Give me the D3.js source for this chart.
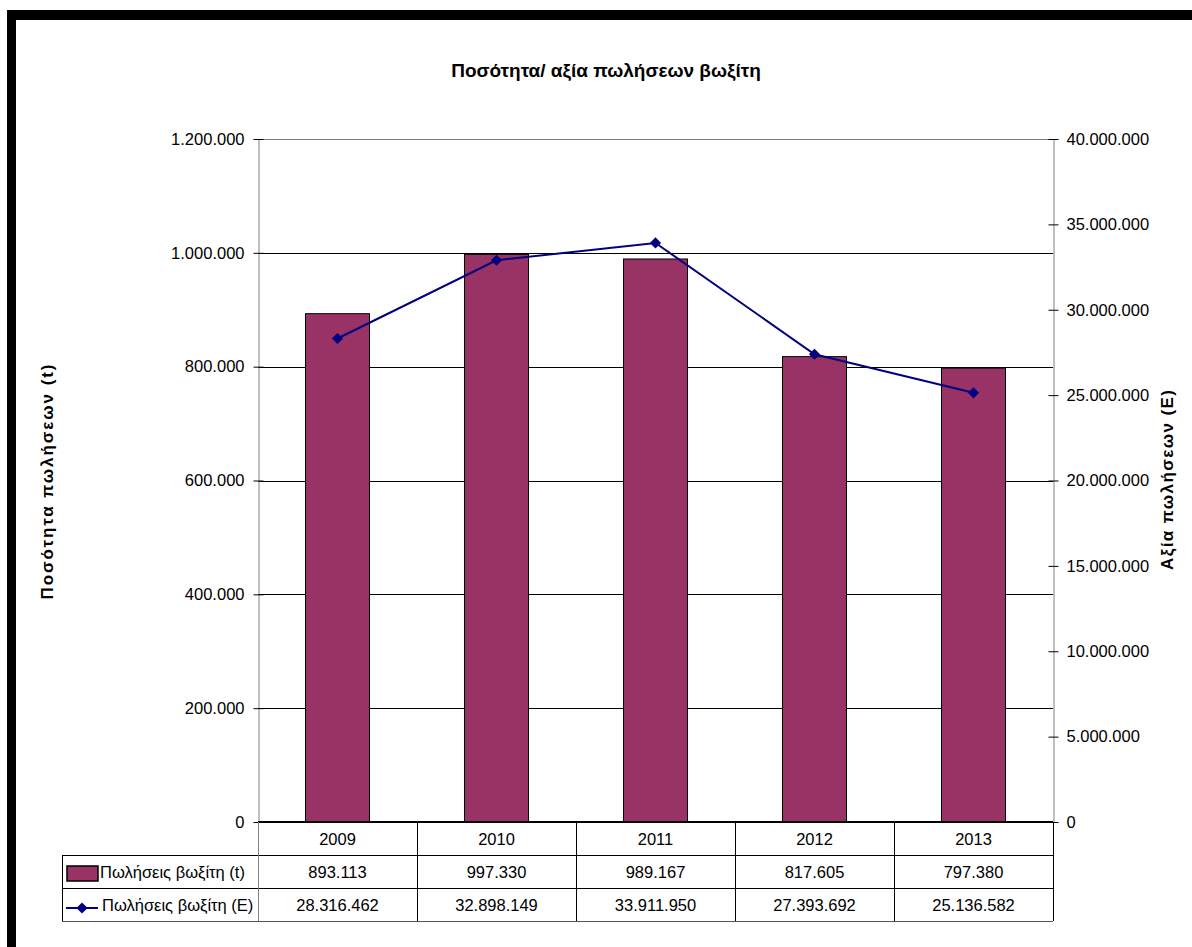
<!DOCTYPE html>
<html><head><meta charset="utf-8">
<script src="https://cdn.jsdelivr.net/npm/d3@7"></script>
<style>body{margin:0;background:#fff;} svg{display:block;font-family:"Liberation Sans",Arial,sans-serif;}</style>
</head><body>
<svg id="c" width="1192" height="947"></svg>
<script>
const categories = ["2009","2010","2011","2012","2013"];
const tons = [893113, 997330, 989167, 817605, 797380];
const values = [28316462, 32898149, 33911950, 27393692, 25136582];
const leftTicks = [0,200000,400000,600000,800000,1000000,1200000];
const rightTicks = [0,5000000,10000000,15000000,20000000,25000000,30000000,35000000,40000000];
const seriesNames = ["Πωλήσεις βωξίτη (t)", "Πωλήσεις βωξίτη (E)"];
const title = "Ποσότητα/ αξία πωλήσεων βωξίτη";
const leftTitle = "Ποσότητα πωλήσεων (t)";
const rightTitle = "Αξία πωλήσεων (Ε)";

const loc = d3.formatLocale({decimal:",", thousands:".", grouping:[3], currency:["",""]});
const fmt = loc.format(",d");

const svg = d3.select("#c");
const L=258, R=1053, T=139, B=822;
const x = d3.scaleBand().domain(categories).range([L,R]).paddingInner(0).paddingOuter(0);
const yL = d3.scaleLinear().domain([0,1200000]).range([B,T]);
const yR = d3.scaleLinear().domain([0,40000000]).range([B,T]);

// frame
svg.append("rect").attr("x",7).attr("y",10).attr("width",1185).attr("height",10).attr("fill","#000");
svg.append("rect").attr("x",7).attr("y",10).attr("width",9).attr("height",937).attr("fill","#000");

// title
svg.append("text").attr("x",606).attr("y",77).attr("text-anchor","middle")
  .attr("font-weight","bold").attr("font-size",19).text(title);

// gridlines
svg.append("g").selectAll("line").data(leftTicks.filter(d=>d>0 && d<1200000)).join("line")
  .attr("x1",L).attr("x2",R).attr("y1",d=>Math.round(yL(d))+0.5).attr("y2",d=>Math.round(yL(d))+0.5)
  .attr("stroke","#000").attr("stroke-width",1);
svg.append("line").attr("x1",L).attr("x2",R).attr("y1",T+0.5).attr("y2",T+0.5).attr("stroke","#808080");

// bars
const bw = 64;
svg.append("g").selectAll("rect").data(tons).join("rect")
  .attr("x",(d,i)=>x(categories[i])+x.bandwidth()/2-bw/2)
  .attr("y",d=>yL(d))
  .attr("width",bw).attr("height",d=>B-yL(d))
  .attr("fill","#993366").attr("stroke","#000").attr("stroke-width",1);

// left axis
const gl = svg.append("g").attr("transform",`translate(${L+0.5},0)`)
  .call(d3.axisLeft(yL).tickValues(leftTicks).tickFormat(fmt).tickSize(5).tickPadding(9));
gl.select(".domain").attr("stroke","#808080");
gl.selectAll(".tick line").attr("stroke","#000").attr("x2",-5).attr("x1",5);
gl.selectAll(".tick text").attr("font-size",16.5).attr("font-family","Liberation Sans, Arial").attr("fill","#000");

// right axis
const gr = svg.append("g").attr("transform",`translate(${R+0.5},0)`)
  .call(d3.axisRight(yR).tickValues(rightTicks).tickFormat(fmt).tickSize(5).tickPadding(8));
gr.select(".domain").attr("stroke","#808080");
gr.selectAll(".tick line").attr("stroke","#000").attr("x1",-5).attr("x2",5);
gr.selectAll(".tick text").attr("font-size",16.5).attr("font-family","Liberation Sans, Arial").attr("fill","#000");

// zero line
svg.append("line").attr("x1",L).attr("x2",R).attr("y1",B).attr("y2",B).attr("stroke","#000").attr("stroke-width",2);

// line series
const lineGen = d3.line().x((d,i)=>x(categories[i])+x.bandwidth()/2).y(d=>yR(d));
svg.append("path").datum(values).attr("d",lineGen).attr("fill","none").attr("stroke","#000080").attr("stroke-width",2);
const diamond = d3.symbol().type(d3.symbolDiamond2).size(80);
svg.append("g").selectAll("path").data(values).join("path")
  .attr("transform",(d,i)=>`translate(${x(categories[i])+x.bandwidth()/2},${yR(d)})`)
  .attr("d",diamond()).attr("fill","#000080");

// axis titles
svg.append("text").attr("transform","translate(53,482) rotate(-90)").attr("text-anchor","middle")
  .attr("font-weight","bold").attr("font-size",17).attr("textLength",235).attr("lengthAdjust","spacing").text(leftTitle);
svg.append("text").attr("transform","translate(1173,480) rotate(-90)").attr("text-anchor","middle")
  .attr("font-weight","bold").attr("font-size",17).attr("textLength",180).attr("lengthAdjust","spacing").text(rightTitle);

// data table
const rowY = [822, 855, 888, 921];
const TL = 62;
const tg = svg.append("g");
tg.append("line").attr("x1",TL).attr("x2",R).attr("y1",rowY[1]+0.5).attr("y2",rowY[1]+0.5).attr("stroke","#000");
tg.append("line").attr("x1",TL).attr("x2",R).attr("y1",rowY[2]+0.5).attr("y2",rowY[2]+0.5).attr("stroke","#000");
tg.append("line").attr("x1",TL).attr("x2",R).attr("y1",rowY[3]+0.5).attr("y2",rowY[3]+0.5).attr("stroke","#555");
tg.append("line").attr("x1",TL+0.5).attr("x2",TL+0.5).attr("y1",rowY[1]).attr("y2",rowY[3]).attr("stroke","#000");
const bounds = categories.map(c=>x(c)).concat([R]);
tg.selectAll("line.v").data(bounds).join("line").attr("class","v")
  .attr("x1",d=>d+0.5).attr("x2",d=>d+0.5).attr("y1",B).attr("y2",rowY[3])
  .attr("stroke",(d,i)=>i===0?"#808080":"#000");
tg.selectAll("text.yr").data(categories).join("text").attr("class","yr")
  .attr("x",d=>x(d)+x.bandwidth()/2).attr("y",(rowY[0]+rowY[1])/2+6).attr("text-anchor","middle")
  .attr("font-size",16.5).text(d=>d);
tg.selectAll("text.t").data(tons).join("text").attr("class","t")
  .attr("x",(d,i)=>x(categories[i])+x.bandwidth()/2).attr("y",(rowY[1]+rowY[2])/2+6).attr("text-anchor","middle")
  .attr("font-size",16.5).text(d=>fmt(d));
tg.selectAll("text.v2").data(values).join("text").attr("class","v2")
  .attr("x",(d,i)=>x(categories[i])+x.bandwidth()/2).attr("y",(rowY[2]+rowY[3])/2+6).attr("text-anchor","middle")
  .attr("font-size",16.5).text(d=>fmt(d));
tg.append("rect").attr("x",67).attr("y",866).attr("width",31).attr("height",15).attr("fill","#993366").attr("stroke","#000").attr("stroke-width",1.5);
tg.append("text").attr("x",100).attr("y",rowY[1]+23).attr("font-size",16.5).text(seriesNames[0]);
tg.append("line").attr("x1",66).attr("x2",98).attr("y1",908).attr("y2",908).attr("stroke","#000080").attr("stroke-width",2);
tg.append("path").attr("transform","translate(82,908)").attr("d",diamond()).attr("fill","#000080");
tg.append("text").attr("x",102).attr("y",rowY[2]+23).attr("font-size",16.5).text(seriesNames[1]);
</script>
</body></html>
